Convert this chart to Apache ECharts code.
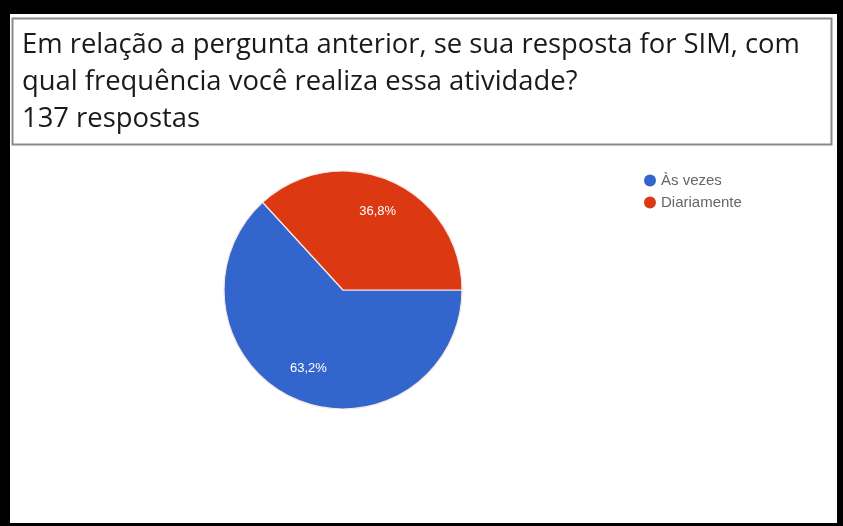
<!DOCTYPE html>
<html>
<head>
<meta charset="utf-8">
<script src="https://cdn.jsdelivr.net/npm/echarts@6/dist/echarts.min.js"></script>
<style>
html,body{margin:0;padding:0;background:#fff;}
#chart{width:843px;height:526px;}
</style>
</head>
<body>
<div id="chart"></div>
<script>
var titleLines = [
  'Em relação a pergunta anterior, se sua resposta for SIM, com',
  'qual frequência você realiza essa atividade?',
  '137 respostas'
];
var categories = ['Às vezes', 'Diariamente'];
var values = [63.2, 36.8];
var colors = ['#3366CC', '#DC3912'];

var chart = echarts.init(document.getElementById('chart'));
var pieData = categories.map(function (c, i) {
  return { name: c, value: values[i] };
});
var fmt = function (p) { return p.value.toFixed(1).replace('.', ',') + '%'; };

chart.setOption({
  animation: false,
  color: colors,
  graphic: [
    { type: 'rect', z: -10, shape: { x: 0, y: 0, width: 843, height: 526 }, style: { fill: '#000' } },
    { type: 'rect', z: -9, shape: { x: 10, y: 14, width: 827, height: 509 }, style: { fill: '#fff' } },
    { type: 'rect', z: -8, shape: { x: 12.5, y: 18.5, width: 819, height: 126 }, style: { fill: '#fff', stroke: '#8a8a8a', lineWidth: 2 } }
  ],
  title: {
    text: titleLines.join('\n'),
    left: 17,
    top: 22,
    textStyle: {
      fontFamily: 'Open Sans',
      fontSize: 27.4,
      fontWeight: 'normal',
      color: '#1a1a1a',
      lineHeight: 37
    }
  },
  legend: {
    orient: 'vertical',
    left: 639,
    top: 168,
    icon: 'circle',
    itemWidth: 12,
    itemHeight: 12,
    itemGap: 7,
    data: categories,
    itemStyle: { borderWidth: 0 },
    textStyle: { fontFamily: 'Liberation Sans', fontSize: 15, color: '#666' }
  },
  series: [
    {
      type: 'pie',
      center: [343, 290],
      radius: [0, 119],
      startAngle: 0,
      clockwise: true,
      data: pieData,
      itemStyle: { borderColor: '#f6e6e6', borderWidth: 1.2 },
      label: { show: false },
      labelLine: { show: false },
      silent: true
    },
    {
      type: 'pie',
      center: [343, 290],
      radius: [47, 119],
      startAngle: 0,
      clockwise: true,
      data: pieData,
      legendHoverLink: false,
      itemStyle: { color: 'rgba(0,0,0,0)', borderWidth: 0, borderColor: 'rgba(0,0,0,0)' },
      label: {
        show: true,
        position: 'inside',
        formatter: fmt,
        color: '#fff',
        fontFamily: 'Liberation Sans',
        fontSize: 13
      },
      labelLine: { show: false },
      silent: true
    }
  ]
});
</script>
</body>
</html>
